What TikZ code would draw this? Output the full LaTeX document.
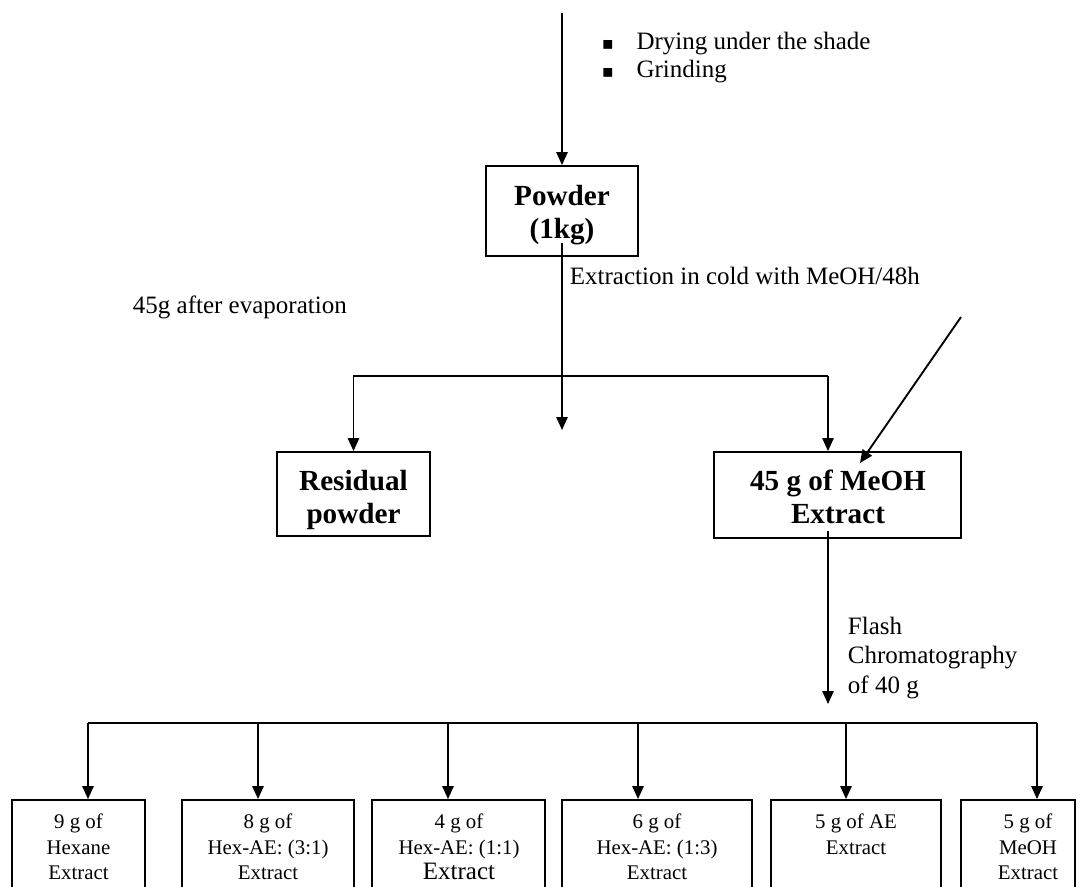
\documentclass[tikz,border=0pt]{standalone}
\usepackage{fontspec}
\setmainfont{Liberation Serif}
\newfontfamily\dejavu{DejaVu Sans}
\usetikzlibrary{arrows.meta,fit}
\begin{document}
\begin{tikzpicture}[x=0.48pt,y=-0.48pt,
  line width=0.9pt,
  arr/.style={-{Triangle[length=6.2pt,width=5.4pt]}},
  bigbox/.style={draw, inner sep=0pt},
  boldtext/.style={inner sep=0pt, align=center, anchor=north, font=\fontsize{14}{16}\selectfont\bfseries},
  smallbox/.style={draw, inner sep=0pt},
  smalltext/.style={inner sep=0pt, align=center, font=\fontsize{10}{12.2}\selectfont, anchor=north},
  note/.style={inner sep=0pt, font=\fontsize{12}{14}\selectfont},
  bul/.style={}
]
\clip (0,0) rectangle (1080,886);

% main boxes
\node[bigbox, fit={(486,166) (638,256)}] (powder) {};
\node[bigbox, fit={(277,452) (430,536)}] (resid) {};
\node[bigbox, fit={(714,452) (961,538)}] (meoh) {};
\node[boldtext] (powdertxt) at (562,184) {Powder\\(1kg)};
\node[boldtext] (residtxt) at (353.5,469) {Residual\\powder};
\node[boldtext] (meohtxt) at (838,469) {45 g of MeOH\\Extract};

% bottom boxes (bottom edges lie below the frame)
\node[smallbox, fit={(12,800) (145,950)}] (b1) {};
\node[smallbox, fit={(182,800) (354,950)}] (b2) {};
\node[smallbox, fit={(372,800) (545,950)}] (b3) {};
\node[smallbox, fit={(562,800) (752,950)}] (b4) {};
\node[smallbox, fit={(771,800) (941,950)}] (b5) {};
\node[smallbox, fit={(961,800) (1075,950)}] (b6) {};

\node[smalltext] (t1) at (78.5,813) {9 g of\\Hexane\\Extract};
\node[smalltext] (t2) at (268,813) {8 g of\\Hex-AE: (3:1)\\Extract};
\node[smalltext] (t3) at (459,813) {4 g of\\Hex-AE: (1:1)\\{\fontsize{12}{12.2}\selectfont Extract}};
\node[smalltext] (t4) at (657,813) {6 g of\\Hex-AE: (1:3)\\Extract};
\node[smalltext] (t5) at (856,813) {5 g of AE\\Extract};
\node[smalltext] (t6) at (1028,813) {5 g of\\MeOH\\Extract};

% annotations
\node[note, anchor=north west, align=left, font=\fontsize{12}{13.6}\selectfont] (steps) at (601,31)
  {\makebox[16.6pt][l]{\dejavu\fontsize{8.5}{8.5}\selectfont ▪}Drying under the shade\\\makebox[16.6pt][l]{\dejavu\fontsize{8.5}{8.5}\selectfont ▪}Grinding};
\node[note, anchor=base west] (extr) at (569,284) {Extraction in cold with MeOH/48h};
\node[note, anchor=base west] (evap) at (132,313) {45g after evaporation};
\node[note, anchor=north west, align=left, font=\fontsize{12}{14.2}\selectfont] (flash) at (847,616)
  {Flash\\Chromatography\\of 40 g};

% connectors
\coordinate (top) at (562,13);
\draw[arr] (top) -- (powder.north);
\coordinate (c1) at (562,430);
\draw[arr] ([yshift=6.7pt]powder.south) -- (c1);

\coordinate (j1) at (828,376);
\draw[arr] (j1) -| (resid.north);
\draw[arr] (j1) -- (j1 |- meoh.north);

\coordinate (d0) at (961,317);
\coordinate (d1) at (860,463);
\draw[arr] (d0) -- (d1);

\coordinate (f1) at (828,704);
\draw[arr] ([yshift=3.8pt]meoh.south -| f1) -- (f1);

\coordinate (k1) at (88,723);
\coordinate (k2) at (258,723);
\coordinate (k3) at (448,723);
\coordinate (k4) at (638,723);
\coordinate (k5) at (846,723);
\coordinate (k6) at (1037,723);
\draw (k1) -- (k6);
\draw[arr] (k1) -- (k1 |- b1.north);
\draw[arr] (k2) -- (k2 |- b2.north);
\draw[arr] (k3) -- (k3 |- b3.north);
\draw[arr] (k4) -- (k4 |- b4.north);
\draw[arr] (k5) -- (k5 |- b5.north);
\draw[arr] (k6) -- (k6 |- b6.north);
\end{tikzpicture}
\end{document}
